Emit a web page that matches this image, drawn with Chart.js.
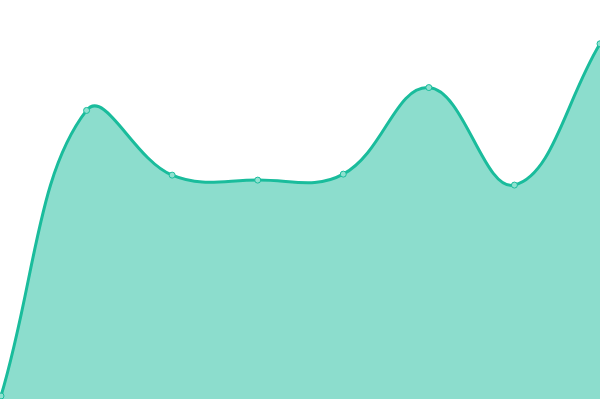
<!DOCTYPE html>
<html>
<head>
<meta charset="utf-8">
<script src="https://cdn.jsdelivr.net/npm/chart.js@4"></script>
<style>
  html, body { margin: 0; padding: 0; background: #fff; overflow: hidden; }
  /* Chart.js pads the chart area by the point size; push that padding off-screen */
  #wrap { position: absolute; left: -4px; top: -4px; width: 609px; height: 408px; }
</style>
</head>
<body>
<div id="wrap"><canvas id="chart"></canvas></div>
<script>
// Values (no axes shown)
const labels = ['1', '2', '3', '4', '5', '6', '7', '8'];
const values = [3, 290, 225, 220, 226, 313, 215, 357];
const yMin = 0;
const yMax = 400;

new Chart(document.getElementById('chart').getContext('2d'), {
    type: 'line',
    data: {
        labels: labels,
        datasets: [{
            data: values,
            borderColor: '#1abc9c',
            backgroundColor: 'rgba(26, 188, 156, 0.5)',
            borderWidth: 3,
            pointRadius: 3,
            pointBorderWidth: 1,
            pointBackgroundColor: '#8fe1d0',
            pointBorderColor: '#1abc9c',
            tension: 0.4,
            fill: 'start',
        }],
    },
    options: {
        responsive: true,
        maintainAspectRatio: false,
        animation: false,
        layout: { padding: 0 },
        plugins: {
            legend: { display: false },
            tooltip: { enabled: false },
        },
        scales: {
            x: { display: false },
            y: { display: false, min: yMin, max: yMax },
        },
    },
});
</script>
</body>
</html>
